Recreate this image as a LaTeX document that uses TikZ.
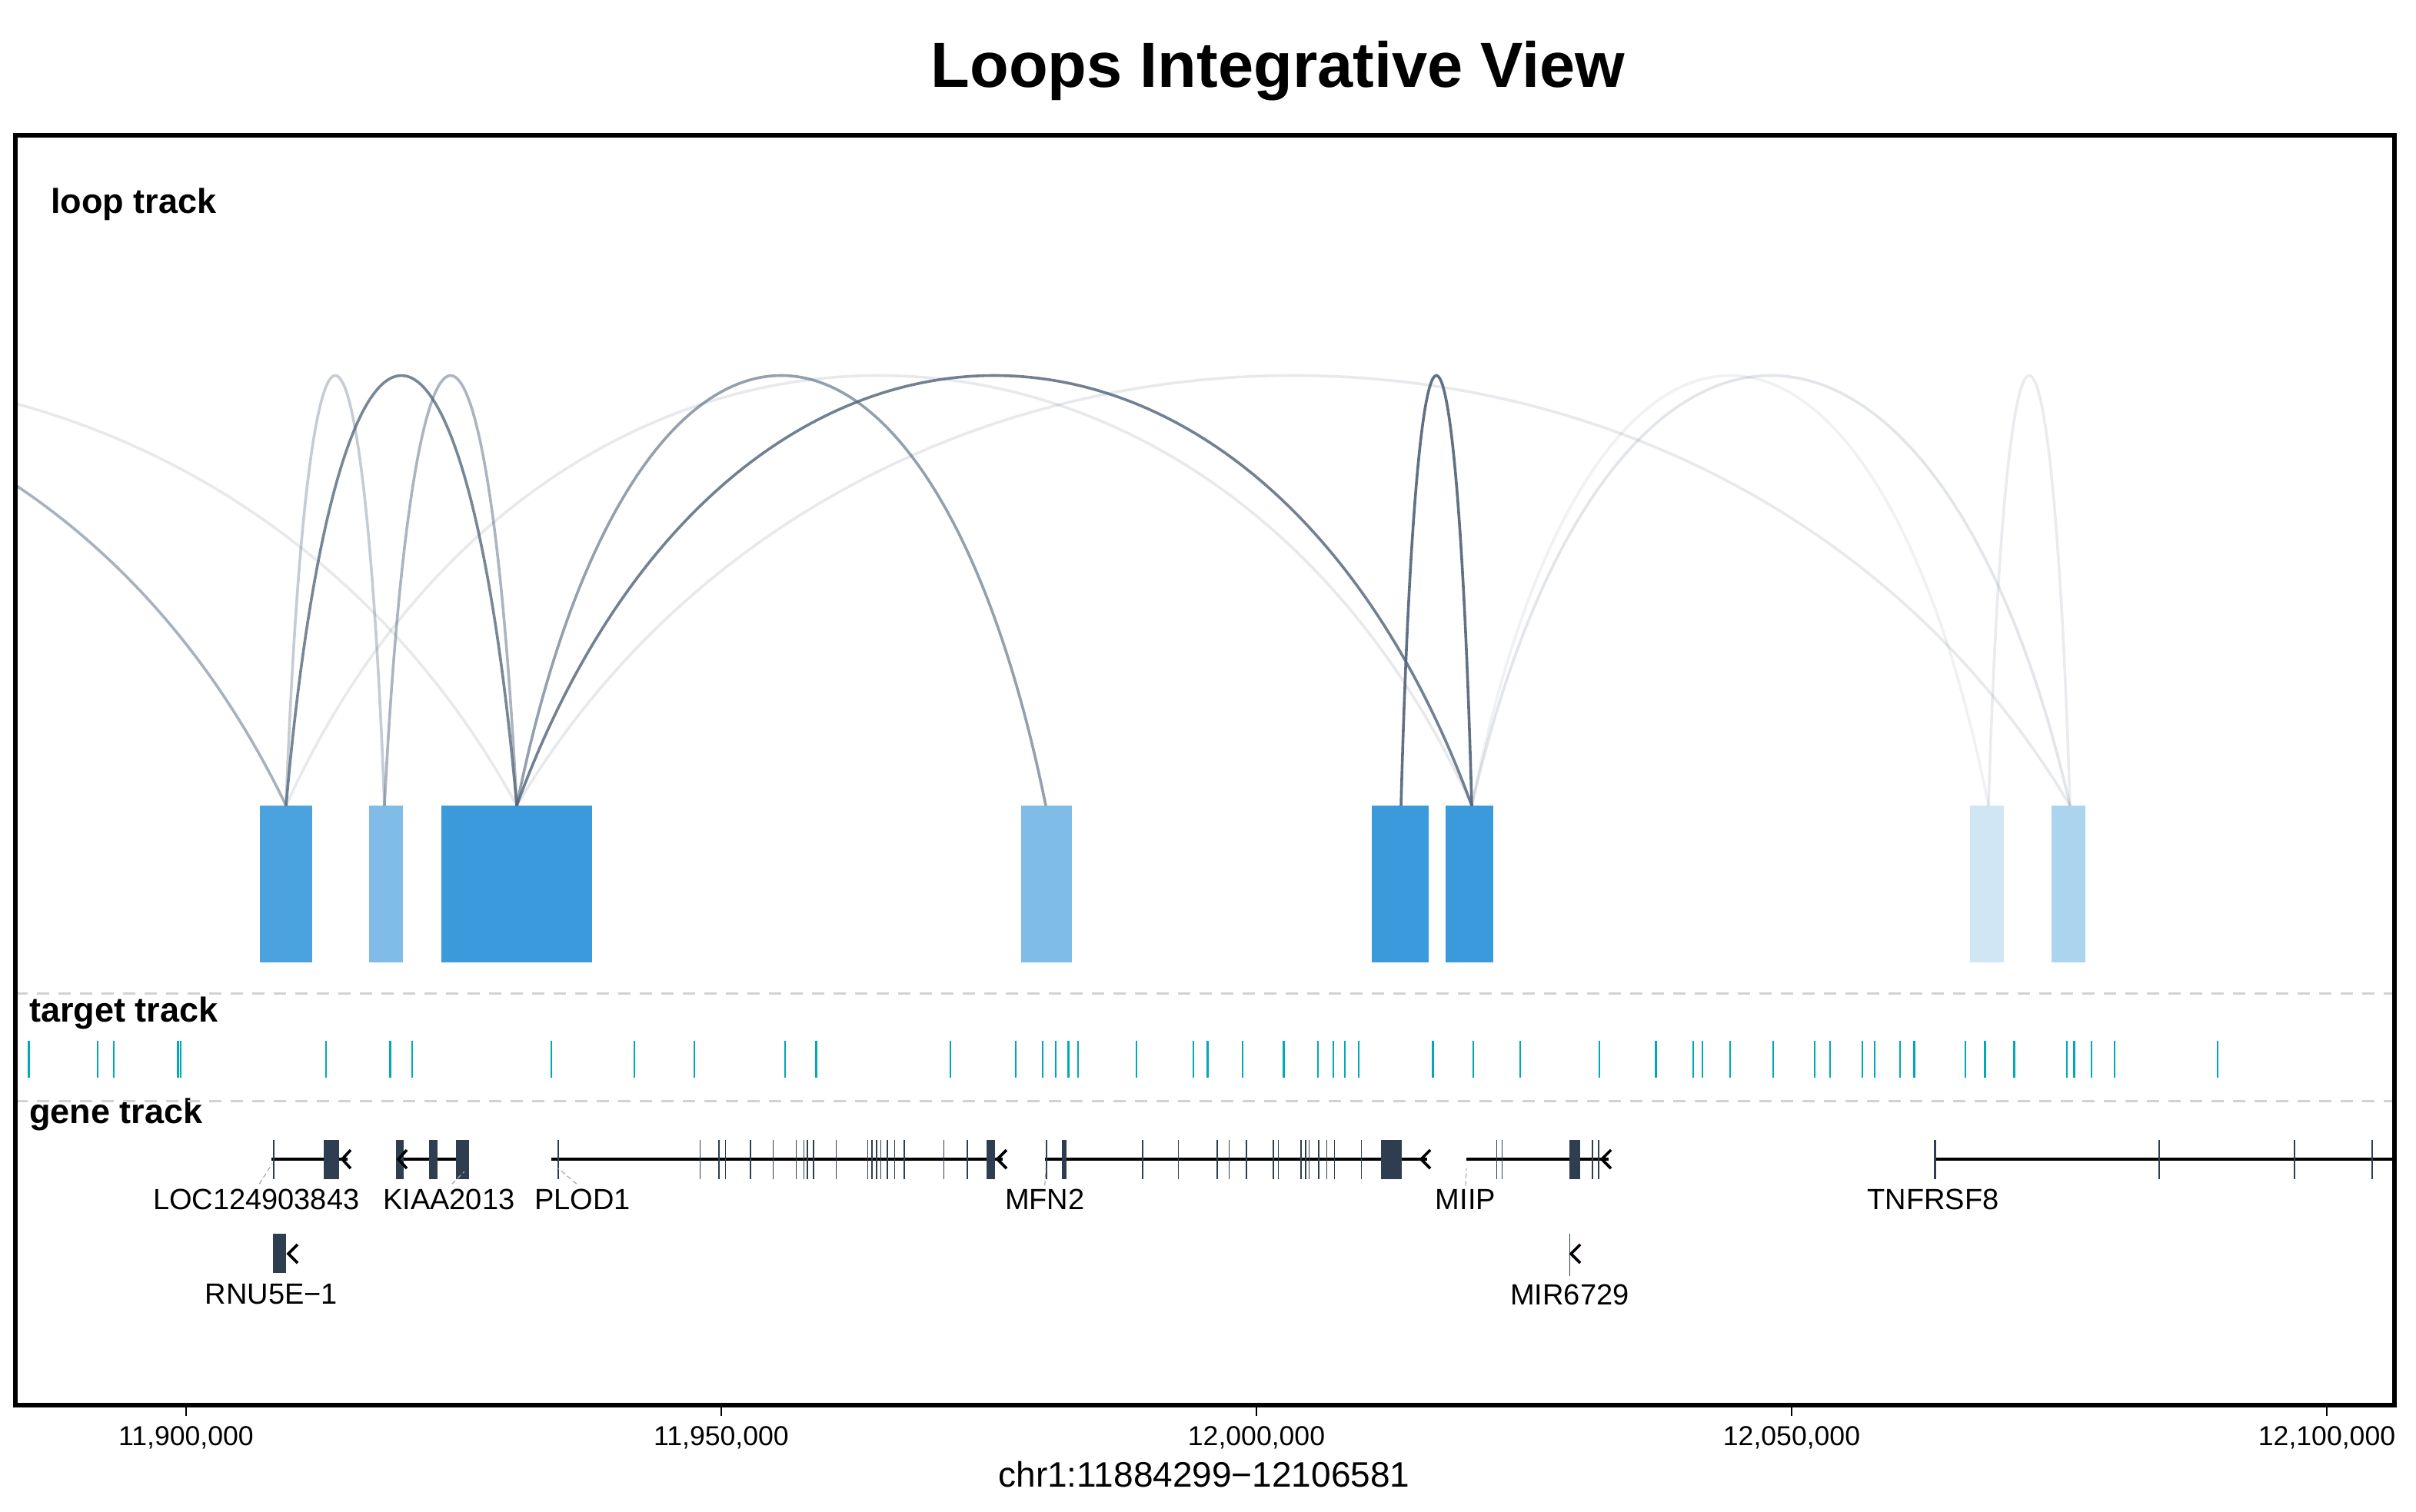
\documentclass[tikz,border=0pt]{standalone}
\usepackage{fontspec}
\setmainfont{Liberation Sans}
\begin{document}
\begin{tikzpicture}[x=1pt,y=-1pt,
  arc/.style={line width=1.8pt,draw=arcc},
  tick/.style={draw=tealc,line width=1.3pt},
  exon/.style={draw=genec,line width=0.8pt},
  gline/.style={line width=2pt,draw=black},
  chev/.style={line width=1.8pt,draw=black},
  lead/.style={draw=gray!70,line width=0.6pt,dash pattern=on 3pt off 2pt},
  glab/.style={font=\fontsize{19}{19}\selectfont,inner sep=0pt},
  alab/.style={font=\fontsize{17.8}{18}\selectfont,inner sep=0pt},
  tlab/.style={font=\bfseries\fontsize{22.5}{23}\selectfont,anchor=west,inner sep=0pt},
  sep/.style={draw=gray!35,line width=1.5pt,dash pattern=on 8pt off 6pt}]
\definecolor{arcc}{HTML}{52657A}
\definecolor{tealc}{HTML}{00A9B8}
\definecolor{genec}{HTML}{2E3E50}
\definecolor{bA}{HTML}{3A9ADB}
\definecolor{bB}{HTML}{7FBDE8}
\definecolor{bC}{HTML}{D1E6F5}
\definecolor{bD}{HTML}{ABD4EF}
\useasboundingbox (0,0) rectangle (1571,983);
\node[font=\bfseries\fontsize{41.5}{42}\selectfont,inner sep=0pt] (title) at (831,46) {Loops Integrative View};
\node[tlab] (lt) at (33,133) {loop track};
\node[tlab] (tt) at (19,659) {target track};
\node[tlab] (gt) at (19,725) {gene track};
\draw[sep] (10,646) -- (1557,646);
\draw[sep] (10,716) -- (1557,716);
% loop boxes
\fill[bA!92!white] (169,524) rectangle (203,626);
\fill[bB] (240,524) rectangle (262,626);
\fill[bA] (287,524) rectangle (385,626);
\fill[bB] (664,524) rectangle (697,626);
\fill[bA] (892,524) rectangle (929,626);
\fill[bA] (940,524) rectangle (971,626);
\fill[bC] (1281,524) rectangle (1303,626);
\fill[bD] (1334,524) rectangle (1356,626);
\newcommand\lparc[3]{\draw[arc,draw opacity=#3] (#1,524) .. controls ({#1+0.22*(#2-#1)},151) and ({#2-0.22*(#2-#1)},151) .. (#2,524);}
\begin{scope}
\clip (10,88) rectangle (1557,914);
\lparc{-590}{336}{0.14}
\lparc{-630}{186}{0.5}
\end{scope}
\lparc{186}{957}{0.14}
\lparc{336}{1346}{0.14}
\lparc{957}{1293}{0.09}
\lparc{957}{1346}{0.17}
\lparc{1293}{1346}{0.13}
\lparc{186}{250}{0.33}
\lparc{250}{336}{0.48}
\lparc{336}{680}{0.62}
\lparc{186}{336}{0.78}
\lparc{336}{957}{0.82}
\lparc{911}{957}{0.92}
% target ticks
\foreach \x in {18.6,63.5,74,115.8,117.5,212,253.6,268,358.5,412.5,451.5,510.4,530.8,618,660.4,678,686.4,694.8,701,739,776,785.3,808,834.8,857,867,874.4,883.5,931.6,958,988.4,1040,1076.7,1101,1107,1125,1153,1180,1190,1211,1219,1235.5,1244.7,1278,1290.6,1309.7,1344,1348.7,1360,1375,1442}
  \draw[tick] (\x,677) -- (\x,701);
% LOC124903843
\draw[gline] (176.5,754) -- (226,754);
\draw[exon] (178,741.5) -- (178,767);
\fill[genec] (210.5,741.5) rectangle (220.3,767);
\draw[chev] (228,748) -- (222.5,754) -- (228,760);
\node[glab] (g1) at (166.6,780) {LOC124903843};
\draw[lead] (g1.north) ++(2,-3) -- (177,757);
% KIAA2013
\draw[gline] (258,754) -- (305,754);
\fill[genec] (257.5,741.5) rectangle (262.4,767);
\fill[genec] (279,741.5) rectangle (284.5,767);
\fill[genec] (296.4,741.5) rectangle (305.2,767);
\draw[chev] (264.5,748) -- (259,754) -- (264.5,760);
\node[glab] (g2) at (291.9,780) {KIAA2013};
\draw[lead] (g2.north) ++(2,-3) -- (302,762);
% PLOD1
\draw[gline] (358.5,754) -- (652,754);
\foreach \x in {363,455.3,467.6,471.8,488,502.7,517.8,522.7,525,529,543.7,564.3,567,570,572.7,577,581.8,588,613.7,629}
  \draw[exon] (\x,741.5) -- (\x,767);
\fill[genec] (641.5,741.5) rectangle (647,767);
\draw[chev] (654.5,748) -- (648.5,754) -- (654.5,760);
\node[glab] (g3) at (378.9,780) {PLOD1};
\draw[lead] (g3.north) ++(-4,-3) -- (363,760);
% MFN2
\draw[gline] (679.7,754) -- (928,754);
\foreach \x in {680.4,743,766.3,791.6,799.3,810.5,828,831.2,846,849,851.2,857.6,862.8,867.7,885.3}
  \draw[exon] (\x,741.5) -- (\x,767);
\fill[genec] (690.5,741.5) rectangle (693.4,767);
\fill[genec] (897.9,741.5) rectangle (911.6,767);
\draw[chev] (930,748) -- (924,754) -- (930,760);
\node[glab] (g4) at (679.4,780) {MFN2};
\draw[lead] (g4.north) ++(0,-2) -- (680,760);
% MIIP
\draw[gline] (953.7,754) -- (1046,754);
\foreach \x in {973.3,976.8,1035.4,1039.6}
  \draw[exon] (\x,741.5) -- (\x,767);
\fill[genec] (1020.3,741.5) rectangle (1027.7,767);
\draw[chev] (1047.5,748) -- (1041.5,754) -- (1047.5,760);
\node[glab] (g5) at (953,780) {MIIP};
\draw[lead] (g5.north) ++(0,-2) -- (953.5,760);
% TNFRSF8
\draw[gline] (1258.2,754) -- (1557,754);
\fill[genec] (1257.4,741.5) rectangle (1259.2,767);
\foreach \x in {1404,1492,1542.4}
  \draw[exon] (\x,741.5) -- (\x,767);
\node[glab] (g6) at (1257,780) {TNFRSF8};
% RNU5E-1
\fill[genec] (177.5,802.5) rectangle (186,828);
\draw[chev] (193.5,809.5) -- (187.5,815.5) -- (193.5,821.5);
\node[glab] (g7) at (176.5,842) {RNU5E−1};
% MIR6729
\draw[exon] (1020.7,802.5) -- (1020.7,830);
\draw[chev] (1027.5,809.5) -- (1021.5,815.5) -- (1027.5,821.5);
\node[glab] (g8) at (1020.7,842) {MIR6729};
% frame
\draw[line width=3pt,line join=miter] (10,88) rectangle (1557,914);
% axis
\foreach \x/\l in {121/{11,900,000},469/{11,950,000},817/{12,000,000},1165/{12,050,000},1513/{12,100,000}} {
  \draw[line width=1pt] (\x,915.5) -- (\x,921);
  \node[alab] at (\x,935) {\l};
}
\node[font=\fontsize{23}{23}\selectfont,inner sep=0pt] (xl) at (783,959) {chr1:11884299−12106581};
\end{tikzpicture}
\end{document}
